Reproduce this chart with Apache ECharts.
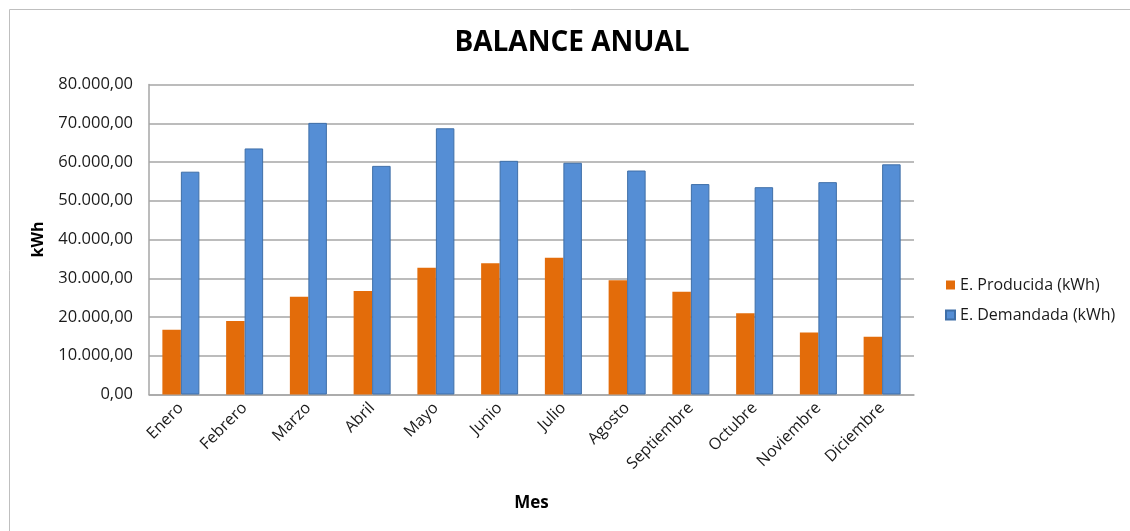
<!DOCTYPE html>
<html>
<head>
<meta charset="utf-8">
<script src="https://cdn.jsdelivr.net/npm/echarts@6/dist/echarts.min.js"></script>
<style>
html,body{margin:0;padding:0;background:#fff;}
#chart{width:1130px;height:531px;}
</style>
</head>
<body>
<div id="chart"></div>
<script>
const categories = ['Enero','Febrero','Marzo','Abril','Mayo','Junio','Julio','Agosto','Septiembre','Octubre','Noviembre','Diciembre'];
const producida = [16700, 19000, 25200, 26700, 32700, 33900, 35300, 29500, 26500, 21000, 16000, 14900];
const demandada = [57500, 63500, 70100, 59000, 68700, 60300, 59800, 57800, 54300, 53500, 54800, 59400];
const seriesNames = ['E. Producida (kWh)', 'E. Demandada (kWh)'];

function fmt(v){
  const s = Math.round(v).toString().replace(/\B(?=(\d{3})+(?!\d))/g, '.');
  return s + ',00';
}

const font = 'Open Sans, Noto Sans, sans-serif';
const txt = '#1a1a1a';
const chart = echarts.init(document.getElementById('chart'), null, {renderer:'canvas'});
chart.setOption({
  backgroundColor: '#ffffff',
  animation: false,
  title: {
    text: 'BALANCE ANUAL',
    left: 567, top: 24, textAlign: 'center',
    textStyle: {fontFamily: font, fontSize: 28, fontWeight: 'bold', color: '#000'}
  },
  graphic: [{
    type: 'rect', left: 7, top: 7, z: -1,
    shape: {width: 1140, height: 540},
    style: {fill: 'none', stroke: '#bfbfbf', lineWidth: 1}
  }],
  legend: {
    orient: 'vertical',
    left: 940, top: 272,
    itemWidth: 9, itemHeight: 9, itemGap: 14,
    icon: 'rect',
    textStyle: {fontFamily: font, fontSize: 16, color: txt},
    data: seriesNames
  },
  grid: {left: 149, right: 216, top: 84.5, bottom: 136.5, containLabel: false},
  xAxis: {
    type: 'category',
    data: categories,
    name: 'Mes',
    nameLocation: 'middle',
    nameGap: 100,
    nameTextStyle: {fontFamily: font, fontSize: 17, fontWeight: 'bold', color: '#000'},
    axisLine: {lineStyle: {color: '#a6a6a6', width: 1.5}},
    axisTick: {show: false},
    axisLabel: {rotate: 45, fontFamily: font, fontSize: 16, color: txt, margin: 11, interval: 0}
  },
  yAxis: {
    type: 'value',
    min: 0, max: 80000, interval: 10000,
    name: 'kWh',
    nameLocation: 'middle',
    nameGap: 103,
    nameRotate: 90,
    nameTextStyle: {fontFamily: font, fontSize: 16, fontWeight: 'bold', color: '#000'},
    axisLine: {show: true, lineStyle: {color: '#a6a6a6', width: 1.5}},
    axisTick: {show: false},
    splitLine: {lineStyle: {color: '#a6a6a6', width: 1.5}},
    axisLabel: {fontFamily: font, fontSize: 16.5, color: txt, margin: 16, formatter: fmt}
  },
  series: [
    {
      name: seriesNames[0], type: 'bar', data: producida,
      barWidth: 18.5, barGap: '0%',
      itemStyle: {color: '#e36c0a'}
    },
    {
      name: seriesNames[1], type: 'bar', data: demandada,
      barWidth: 18.5, barGap: '0%',
      itemStyle: {color: '#558ed5', borderColor: '#3f6fa8', borderWidth: 1}
    }
  ]
});
</script>
</body>
</html>
